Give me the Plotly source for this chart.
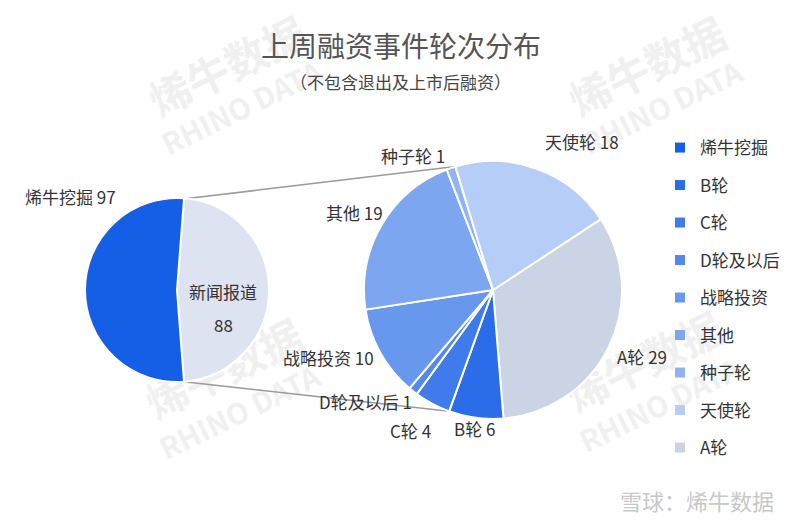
import math
import plotly.graph_objects as go

# ---- data ----
left_labels = ["新闻报道", "烯牛挖掘"]
left_values = [88, 97]
right_labels = ["A轮", "B轮", "C轮", "D轮及以后", "战略投资", "其他", "种子轮", "天使轮"]
right_values = [29, 6, 4, 1, 10, 19, 1, 18]
legend_order = ["烯牛挖掘", "B轮", "C轮", "D轮及以后", "战略投资", "其他", "种子轮", "天使轮", "A轮"]

colors = {
    "烯牛挖掘": "#145FE6",
    "B轮": "#2B6DE9",
    "C轮": "#3F7BEB",
    "D轮及以后": "#5388EC",
    "战略投资": "#6898EE",
    "其他": "#7CA6F0",
    "种子轮": "#90B4F3",
    "天使轮": "#B6CEF7",
    "A轮": "#CBD4E4",
    "新闻报道": "#DDE3F0",
}

W, H = 800, 528
FONT = "Noto Sans CJK SC"
LABEL_SIZE = 17

# geometry (pixels)
L_CX, L_CY, L_R = 177, 290, 92
R_CX, R_CY, R_R = 493, 290, 129
L_ROT = 4.4
R_ROT = 56.7

# label placement (pixel anchor, alignment)
label_pos = {
    "烯牛挖掘": (118, 197, "right"),
    "A轮": (615, 356, "left"),
    "B轮": (452, 428, "left"),
    "C轮": (433, 430, "right"),
    "D轮及以后": (414, 401, "right"),
    "战略投资": (376, 357, "right"),
    "其他": (385, 213, "right"),
    "种子轮": (447, 156, "right"),
    "天使轮": (543, 141, "left"),
}
inside_pos = {"新闻报道": (223, 291, 324)}

# background watermark tiles (text centres, pixels); top row clear of pies
watermark_top = [(226, 64), (646, 64)]
watermark_bottom = [(226, 373), (646, 366)]
WM_ANGLE = -26
WM_COLOR = "#f0f0f0"


def dom(cx, cy, r):
    return dict(x=[(cx - r) / W, (cx + r) / W], y=[1 - (cy + r) / H, 1 - (cy - r) / H])


fig = go.Figure()

fig.add_trace(go.Pie(
    labels=left_labels, values=left_values, sort=False, direction="clockwise",
    rotation=L_ROT, domain=dom(L_CX, L_CY, L_R),
    marker=dict(colors=[colors[l] for l in left_labels], line=dict(color="white", width=2)),
    textinfo="none", showlegend=False, hoverinfo="label+value",
))

fig.add_trace(go.Pie(
    labels=right_labels, values=right_values, sort=False, direction="clockwise",
    rotation=R_ROT, domain=dom(R_CX, R_CY, R_R),
    marker=dict(colors=[colors[l] for l in right_labels], line=dict(color="white", width=2)),
    textinfo="none", showlegend=False, hoverinfo="label+value",
))

# legend via dummy traces
for i, lab in enumerate(legend_order):
    fig.add_trace(go.Scatter(
        x=[None], y=[None], mode="markers", name=lab, legendgroup=str(i),
        marker=dict(symbol="square", size=10, color=colors[lab]),
    ))


# watermarks
def wm_below(text, cx, cy, size, w=260, h=80):
    fig.add_shape(type="rect", xref="paper", yref="paper",
                  x0=(cx - w / 2) / W, x1=(cx + w / 2) / W,
                  y0=1 - (cy + h / 2) / H, y1=1 - (cy - h / 2) / H,
                  line=dict(width=0), fillcolor="rgba(0,0,0,0)", layer="below",
                  label=dict(text=text, textangle=WM_ANGLE, textposition="middle center",
                             font=dict(family=FONT, size=size, color=WM_COLOR, weight="bold")))


def wm_ann(text, cx, cy, size):
    fig.add_annotation(text=text, x=cx / W, y=1 - cy / H, xref="paper", yref="paper",
                       xanchor="center", yanchor="middle", showarrow=False, textangle=WM_ANGLE,
                       font=dict(family=FONT, size=size, color=WM_COLOR, weight="bold"))


for cx, cy in watermark_top:
    wm_ann("烯牛数据", cx, cy, 42)
    wm_ann("RHINO DATA", cx + 15, cy + 42, 29)
for cx, cy in watermark_bottom:
    wm_below("烯牛数据", cx, cy, 42)
    wm_below("RHINO DATA", cx + 15, cy + 42, 29)


# connector lines computed from slice geometry
def pt(cx, cy, r, ang):
    a = math.radians(ang)
    return cx + r * math.sin(a), cy - r * math.cos(a)


lt = sum(left_values)
rt = sum(right_values)
l_top = pt(L_CX, L_CY, L_R, L_ROT + 2)
l_bot = pt(L_CX, L_CY, L_R, L_ROT + 360 * left_values[0] / lt)
r_top = pt(R_CX, R_CY, R_R, R_ROT - 360 * right_values[-1] / rt)
r_bot = pt(R_CX, R_CY, R_R, R_ROT + 360 * sum(right_values[:2]) / rt)

for a, b in [(l_top, r_top), (l_bot, r_bot)]:
    fig.add_shape(type="line", xref="paper", yref="paper",
                  x0=a[0] / W, y0=1 - a[1] / H, x1=b[0] / W, y1=1 - b[1] / H,
                  line=dict(color="#9a9a9a", width=1.5), layer="below")


def ann(text, x, y, anchor="center", size=LABEL_SIZE, color="#333"):
    fig.add_annotation(text=text, x=x / W, y=1 - y / H, xref="paper", yref="paper",
                       xanchor=anchor, yanchor="middle", showarrow=False,
                       font=dict(family=FONT, size=size, color=color))


# slice labels built from the data arrays
for labs, vals in [(left_labels, left_values), (right_labels, right_values)]:
    for lab, v in zip(labs, vals):
        if lab in label_pos:
            x, y, a = label_pos[lab]
            ann(f"{lab} {v}", x, y, a)
        elif lab in inside_pos:
            x, y1, y2 = inside_pos[lab]
            ann(lab, x, y1)
            ann(str(v), x, y2)

ann("上周融资事件轮次分布", 401, 45, size=28, color="#555")
ann("（不包含退出及上市后融资）", 400, 82, size=17, color="#444")
ann("雪球：烯牛数据", 776, 500, anchor="right", size=22, color="#c8c8c8")

fig.update_layout(
    width=W, height=H, margin=dict(l=0, r=0, t=0, b=0),
    paper_bgcolor="white", plot_bgcolor="rgba(0,0,0,0)",
    xaxis=dict(visible=False), yaxis=dict(visible=False),
    legend=dict(x=660 / W, y=1 - 130 / H, xanchor="left", yanchor="top",
                bgcolor="rgba(0,0,0,0)",
                font=dict(family=FONT, size=LABEL_SIZE, color="#333"), tracegroupgap=12.4,
                itemclick=False),
    font=dict(family=FONT),
)

fig.write_html("out.html")
